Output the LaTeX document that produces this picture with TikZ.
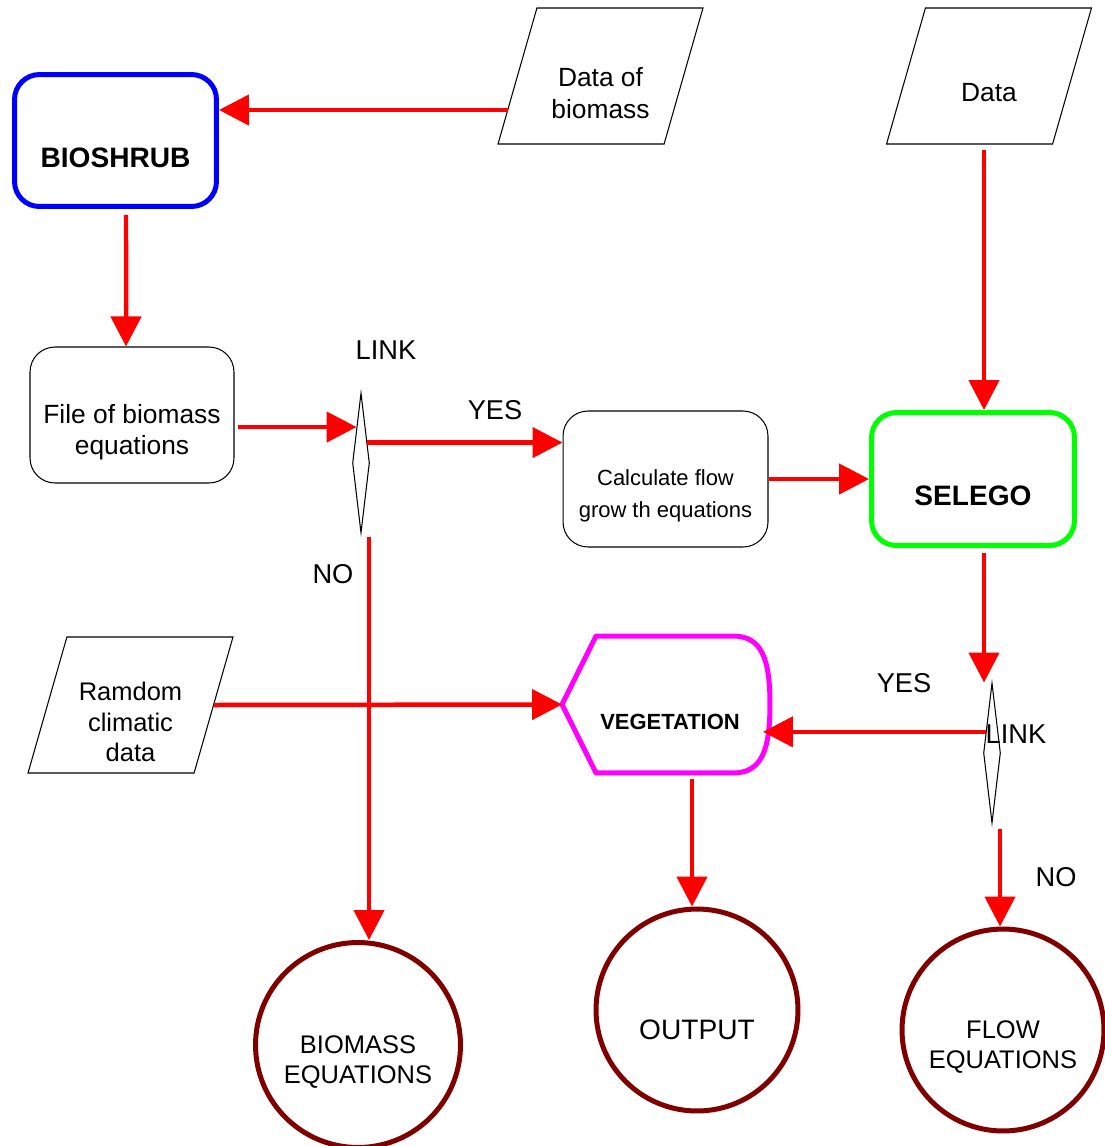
\documentclass[tikz,border=0pt]{standalone}
\usepackage{fontspec}
\setmainfont{Liberation Sans}
\usetikzlibrary{calc,arrows.meta,shapes.geometric}
\definecolor{darkred}{RGB}{128,0,0}
\definecolor{vegpink}{RGB}{255,0,255}

\tikzset{
  flow/.style={draw=red,line width=0.09cm,-{Triangle[length=0.6cm,width=0.6cm]}},
  io/.style={draw,line width=0.6pt,trapezium,trapezium left angle=73,trapezium right angle=107,
    trapezium stretches=true,minimum width=4.1cm,minimum height=2.72cm,inner sep=2pt,outer sep=0pt},
  proc/.style={draw,rounded corners=0.5cm,minimum width=4.04cm,minimum height=2.64cm,inner sep=0pt},
  term/.style={draw=darkred,line width=0.1cm,circle,minimum size=4.04cm,inner sep=0pt},
  link/.style={draw,diamond,line width=0.6pt,minimum width=0.34cm,minimum height=2.8cm,inner sep=0pt},
  intext/.style={yshift=-0.34cm,align=center,font=\fontsize{15}{18.5}\selectfont},
  boldtext/.style={intext,font=\bfseries\fontsize{16}{19}\selectfont},
  tag/.style={font=\fontsize{15.5}{18}\selectfont}
}

\begin{document}
\begin{tikzpicture}[x=0.02cm,y=-0.02cm]
\useasboundingbox (0,0) rectangle (1105,1146);

\node[io,label={[intext]center:{Data of\\biomass}}] (datab) at (600.5,76) {};
\node[io,label={[intext]center:Data}] (data) at (989,76) {};
\node[io,label={[intext,font=\fontsize{14.5}{17.4}\selectfont]center:{Ramdom\\climatic\\data}}] (rand) at (130.5,705) {};

\node[proc,draw=blue,line width=0.1cm,label={[boldtext]center:BIOSHRUB}] (bioshrub) at (115.5,140.5) {};
\node[proc,line width=0.6pt,minimum width=4.08cm,minimum height=2.72cm,
  label={[intext,font=\fontsize{15}{17.6}\selectfont]center:{File of biomass\\equations}}] (file) at (132,415) {};
\node[proc,line width=0.6pt,minimum width=4.1cm,minimum height=2.72cm,
  label={[intext,font=\fontsize{12.5}{18}\selectfont]center:{Calculate flow\\grow th equations}}] (calc) at (665.5,479) {};
\node[proc,draw=green,line width=0.1cm,minimum width=4.06cm,minimum height=2.66cm,
  label={[boldtext]center:SELEGO}] (selego) at (973,479) {};

\node[minimum width=4.16cm,minimum height=2.74cm,inner sep=0pt,outer sep=0pt,
  label={[intext,xshift=0.08cm,font=\bfseries\fontsize{12.5}{15}\selectfont]center:VEGETATION}] (veg) at (666,704.5) {};
\draw[vegpink,line width=0.1cm,line join=round] (veg.west) -- ($(veg.north west)+(34,0)$)
  -- ($(veg.north east)+(-37,0)$) .. controls ($(veg.north east)+(-8,0)$) and ($(veg.east)+(0,-45)$) .. (veg.east)
  .. controls ($(veg.east)+(0,45)$) and ($(veg.south east)+(-8,0)$) .. ($(veg.south east)+(-37,0)$)
  -- ($(veg.south west)+(34,0)$) -- cycle;

\node[link] (link1) at (361,463) {};
\node[link] (link2) at (992,753) {};

\node[term,minimum size=4.1cm,label={[intext,font=\fontsize{14.5}{17.4}\selectfont]center:{BIOMASS\\EQUATIONS}}] (bioeq) at (358,1045) {};
\node[term,label={[intext,yshift=-0.06cm,font=\fontsize{16}{19}\selectfont]center:OUTPUT}] (output) at (697,1010) {};
\node[term,label={[intext,font=\fontsize{14.5}{17.4}\selectfont]center:{FLOW\\EQUATIONS}}] (floweq) at (1003,1030) {};

\node[tag] (link1 tag) at (386,350) {LINK};
\node[tag] (yes1) at (495,410) {YES};
\node[tag] (no1) at (333,574) {NO};
\node[tag] (yes2) at (904,683) {YES};
\node[tag] (link2 tag) at (1016,734) {LINK};
\node[tag] (no2) at (1056,877) {NO};

\coordinate (datab out) at ($(datab.bottom left corner)!0.25!(datab.top left corner)$);
\draw[flow] (datab out) -- (datab out -| bioshrub.east);
\draw[flow] ([xshift=0.21cm,yshift=-0.12cm]bioshrub.south) -- ([xshift=-0.12cm]file.north);

\coordinate (link1 in) at ($(link1.north)!0.49!(link1.west)$);
\draw[flow,shorten <=0.06cm] (file.east |- link1 in) -- (link1 in);
\coordinate (link1 yes) at ($(link1.north)!0.71!(link1.east)$);
\draw[flow] (link1 yes) -- (link1 yes -| calc.west);
\coordinate (link1 no) at ([xshift=0.16cm]link1.south);
\draw[flow,shorten <=0.06cm] (link1 no) -- (link1 no |- bioeq.north);

\draw[flow] (calc.east) -- (selego.west);
\coordinate (selego in) at ([xshift=0.22cm]selego.north);
\draw[flow,shorten <=0.12cm] (selego in |- data.south) -- (selego in);
\coordinate (selego out) at ([xshift=0.22cm]selego.south);
\draw[flow,shorten <=0.1cm] (selego out) -- (selego out |- link2.north);

\coordinate (link2 yes) at ($(link2.north)!0.7!(link2.west)$);
\draw[flow,shorten >=-0.14cm] (link2 yes) -- (link2 yes -| veg.east);
\coordinate (link2 no) at ([xshift=0.16cm]link2.south);
\draw[flow,shorten <=0.1cm] (link2 no) -- (link2 no |- floweq.north);

\draw[flow] (rand.east) -- (veg.west);
\coordinate (veg out) at ([xshift=0.52cm]veg.south);
\draw[flow,shorten <=0.12cm] (veg out) -- (veg out |- output.north);
\end{tikzpicture}
\end{document}
